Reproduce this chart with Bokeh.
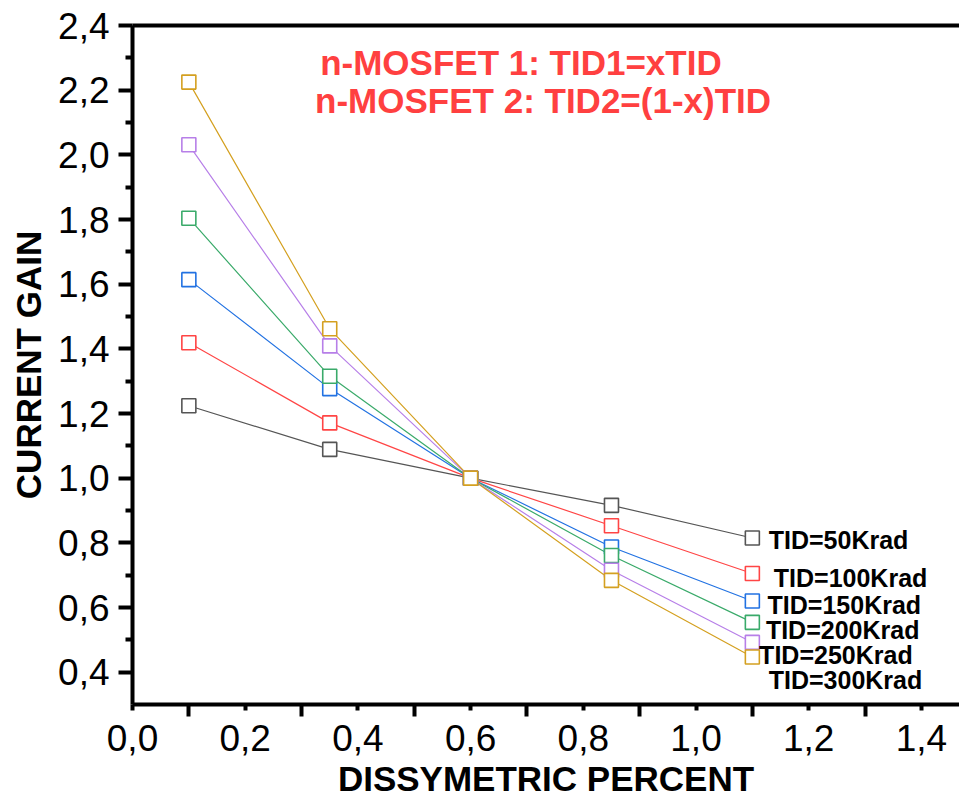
from bokeh.plotting import figure
from bokeh.models import (LinearAxis, FixedTicker, CustomJSTickFormatter, Label, ColumnDataSource)
from bokeh.embed import file_html
from bokeh.resources import INLINE

# ---- data ----
x_vals = [0.1, 0.35, 0.6, 0.85, 1.1]
tid50 = [1.224, 1.089, 1.0, 0.916, 0.815]
tid100 = [1.419, 1.171, 1.0, 0.853, 0.705]
tid150 = [1.614, 1.277, 1.0, 0.787, 0.620]
tid200 = [1.804, 1.315, 1.0, 0.761, 0.554]
tid250 = [2.031, 1.409, 1.0, 0.715, 0.492]
tid300 = [2.225, 1.462, 1.0, 0.684, 0.447]
series_names = ["TID=50Krad", "TID=100Krad", "TID=150Krad", "TID=200Krad", "TID=250Krad", "TID=300Krad"]
series_values = [tid50, tid100, tid150, tid200, tid250, tid300]
x_ticks = [0.0, 0.2, 0.4, 0.6, 0.8, 1.0, 1.2, 1.4]
x_minor = [0.1, 0.3, 0.5, 0.7, 0.9, 1.1, 1.3]
y_ticks = [0.4, 0.6, 0.8, 1.0, 1.2, 1.4, 1.6, 1.8, 2.0, 2.2, 2.4]
y_minor = [0.5, 0.7, 0.9, 1.1, 1.3, 1.5, 1.7, 1.9, 2.1, 2.3]

colors = ["#555555", "#FF4545", "#2272E2", "#3AAA6A", "#B77FE8", "#D4A020"]
FONT = "Liberation Sans"

p = figure(frame_width=827, frame_height=679, x_range=(0, 1.4676), y_range=(0.3, 2.4),
           output_backend="svg", toolbar_location=None,
           min_border_left=132, min_border_top=25, min_border_right=0, min_border_bottom=96,
           x_axis_label="DISSYMETRIC PERCENT", y_axis_label="CURRENT GAIN")
p.outline_line_color = None
p.xgrid.visible = False
p.ygrid.visible = False
p.background_fill_color = "white"
p.border_fill_color = "white"

fmt = CustomJSTickFormatter(code="return tick.toFixed(1).replace('.', ',');")

xa = p.xaxis[0]
xa.ticker = FixedTicker(ticks=x_ticks, minor_ticks=x_minor)
xa.formatter = fmt
ya = p.yaxis[0]
ya.ticker = FixedTicker(ticks=y_ticks, minor_ticks=y_minor)
ya.formatter = fmt

for ax in (xa, ya):
    ax.axis_line_width = 4
    ax.axis_line_color = "black"
    ax.major_tick_line_width = 4
    ax.minor_tick_line_width = 4
    ax.major_tick_line_color = "black"
    ax.minor_tick_line_color = "black"
    ax.major_tick_in = 0
    ax.minor_tick_in = 0
    ax.major_label_text_font = FONT
    ax.major_label_text_font_size = "37px"
    ax.major_label_text_color = "black"
    ax.axis_label_text_font = FONT
    ax.axis_label_text_font_size = "35px"
    ax.axis_label_text_font_style = "bold"
    ax.axis_label_text_color = "black"

xa.major_tick_out = 6
xa.minor_tick_out = 12
xa.major_label_standoff = 8
xa.axis_label_standoff = 5
ya.major_tick_out = 14
ya.minor_tick_out = 7
ya.major_label_standoff = 9
ya.axis_label_standoff = 7

top = LinearAxis(ticker=FixedTicker(ticks=[]), axis_line_width=4, axis_line_color="black",
                 major_tick_line_color=None, minor_tick_line_color=None,
                 major_label_text_font_size="0px")
p.add_layout(top, "above")

sources = []
for vals in series_values:
    sources.append(ColumnDataSource(data=dict(x=x_vals, y=vals)))

for src, c in zip(sources, colors):
    p.line("x", "y", source=src, line_color=c, line_width=1.2)
for src, c in zip(sources, colors):
    p.scatter("x", "y", source=src, marker="square", size=14, line_color=c,
              line_width=1.6, fill_color="white")

# series labels next to the last points
label_pos = [(1.129, 0.808), (1.138, 0.691), (1.127, 0.607), (1.124, 0.530), (1.112, 0.453), (1.129, 0.376)]
for name, (lx, ly) in zip(series_names, label_pos):
    p.add_layout(Label(x=lx, y=ly, text=name, text_font=FONT, text_font_size="25px",
                       text_font_style="bold", text_color="black", text_baseline="alphabetic"))

p.add_layout(Label(x=0.333, y=2.287, text="n-MOSFET 1: TID1=xTID", text_font=FONT,
                   text_font_size="35px", text_font_style="bold", text_color="#FF4040",
                   text_baseline="alphabetic"))
p.add_layout(Label(x=0.324, y=2.168, text="n-MOSFET 2: TID2=(1-x)TID", text_font=FONT,
                   text_font_size="35px", text_font_style="bold", text_color="#FF4040",
                   text_baseline="alphabetic"))

open("out.html", "w").write(file_html(p, INLINE))
